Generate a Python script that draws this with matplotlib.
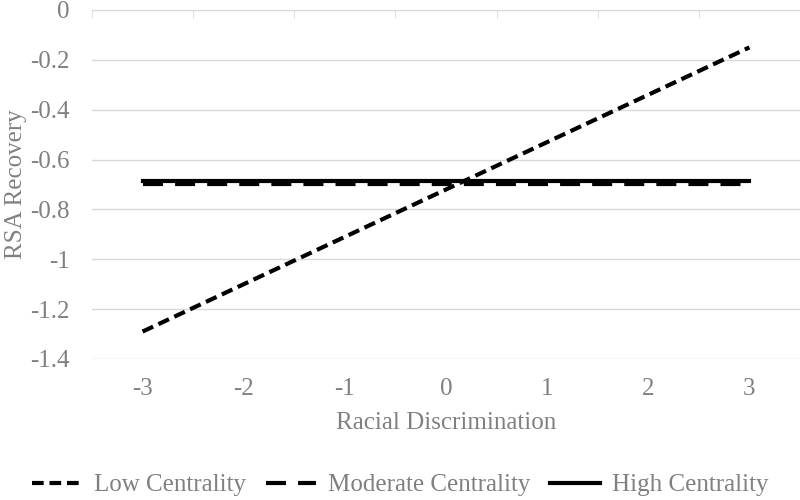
import numpy as np
import matplotlib
matplotlib.use("Agg")
import matplotlib.pyplot as plt

plt.rcParams['font.family'] = ['Liberation Serif', 'DejaVu Serif']

# data
discrimination = [-3, -2, -1, 0, 1, 2, 3]
low_centrality = [-1.29, -1.10, -0.91, -0.72, -0.53, -0.34, -0.15]
moderate_centrality = [-0.70, -0.70, -0.70, -0.70, -0.70, -0.70, -0.70]
high_centrality = [-0.685, -0.685, -0.685, -0.685, -0.685, -0.685, -0.685]
y_ticks = [0, -0.2, -0.4, -0.6, -0.8, -1, -1.2, -1.4]
y_tick_labels = ["0", "-0.2", "-0.4", "-0.6", "-0.8", "-1", "-1.2", "-1.4"]

text_color = "#808080"
grid_color = "#d9d9d9"
fs = 18

fig = plt.figure(figsize=(8, 5), dpi=100)
ax = fig.add_axes([0.115, 0.282, 0.885, 0.698])

ax.plot(discrimination, low_centrality, color="black", lw=3,
        dashes=(2.8, 1.4), label="Low Centrality")
ax.plot(discrimination, moderate_centrality, color="black", lw=3,
        dashes=(4.8, 2.9), label="Moderate Centrality")
ax.plot(discrimination, high_centrality, color="black", lw=3,
        label="High Centrality")

ax.set_xlim(-3.5, 3.5)
ax.set_ylim(-1.4, 0)
ax.set_yticks(y_ticks)
ax.set_yticklabels(y_tick_labels)
ax.set_xticks(discrimination)
ax.set_xticklabels([str(v) for v in discrimination])

ax.grid(axis="y", color=grid_color, lw=1)
ax.set_axisbelow(True)
for side in ["left", "right", "bottom"]:
    ax.spines[side].set_visible(False)
ax.spines["top"].set_color(grid_color)

ax.set_xticks(np.arange(-3.5, 4, 1), minor=True)
ax.tick_params(which="minor", top=True, bottom=False, direction="in",
               length=6, color=grid_color)
ax.tick_params(which="major", length=0, labelsize=fs, colors=text_color)
ax.tick_params(axis="x", which="major", pad=14)
ax.tick_params(axis="y", which="major", pad=16)

ax.set_xlabel("Racial Discrimination", fontsize=fs, color=text_color, labelpad=8)
ax.set_ylabel("RSA Recovery", fontsize=fs, color=text_color, labelpad=2)

fig.legend(loc="center", bbox_to_anchor=(0.5, 0.03), ncol=3, frameon=False,
           fontsize=fs, handlelength=2.0, handletextpad=0.48,
           columnspacing=0.8, labelcolor=text_color)

fig.savefig("out.png", dpi=100)
